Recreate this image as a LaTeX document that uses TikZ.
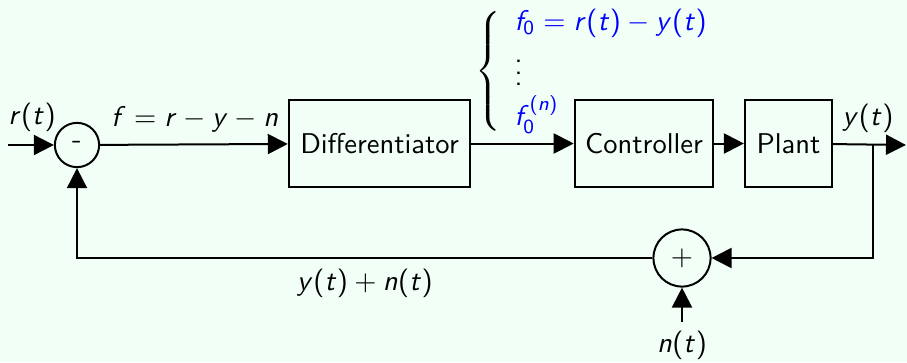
\documentclass[tikz,border=0pt]{standalone}
\usetikzlibrary{arrows.meta}
\DeclareSymbolFont{sfitletters}{OT1}{cmss}{m}{sl}
\DeclareSymbolFont{sfupright}{OT1}{cmss}{m}{n}
\DeclareMathSymbol{f}{\mathalpha}{sfitletters}{`f}
\DeclareMathSymbol{r}{\mathalpha}{sfitletters}{`r}
\DeclareMathSymbol{t}{\mathalpha}{sfitletters}{`t}
\DeclareMathSymbol{y}{\mathalpha}{sfitletters}{`y}
\DeclareMathSymbol{n}{\mathalpha}{sfitletters}{`n}
\DeclareMathSymbol{0}{\mathalpha}{sfupright}{`0}
\DeclareMathSymbol{(}{\mathopen}{sfupright}{`(}
\DeclareMathSymbol{)}{\mathclose}{sfupright}{`)}
\definecolor{bgmint}{RGB}{242,255,246}
\begin{document}
\begin{tikzpicture}[x=0.35pt,y=-0.35pt,
  line width=0.7pt,
  every node/.append style={font=\sffamily},
  blockbox/.style={draw,minimum width=#1,minimum height=30.5pt,inner sep=0pt},
  sumnode/.style={draw,circle,inner sep=0pt,minimum size=#1},
  arr/.style={-{Triangle[length=7pt,width=7pt]}},
  lbl/.style={inner sep=0pt}]
\fill[bgmint] (0,0) rectangle (907,362);
\useasboundingbox (0,0) rectangle (907,362);
% nodes
\node[sumnode=15.5pt] (s1) at (77,145) {-};
\node[blockbox=63.5pt] (diff) at (379.5,143.5) {Differentiator};
\node[blockbox=48.5pt] (ctrl) at (644,143.5) {Controller};
\node[blockbox=30.5pt] (plant) at (788.5,143.5) {Plant};
\node[sumnode=20pt] (s2) at (682,258) {$+$};
\coordinate (in) at (8,145);
\coordinate (out) at (906,145);
\coordinate (br) at (873,145);
\coordinate (brd) at (873,258);
\coordinate (fbl) at (77,258);
\coordinate (nin) at (682,322);
% labels
\node[lbl] (lr) at (32,117) {$r(t)$};
\node[lbl] (lf) at (195,119) {$f=r-y-n$};
\node[lbl] (ly) at (868,118) {$y(t)$};
\node[lbl] (lyn) at (365,283) {$y(t)+n(t)$};
\node[lbl] (ln) at (682,345) {$n(t)$};
\node[lbl,anchor=west] (eqs) at (474,71) {$\left\{\begin{array}{l}
  \color{blue} f_0=r(t)-y(t)\\[1pt]
  \vdots\\
  \color{blue} f_0^{(n)}
\end{array}\right.$};
% connectors
\draw[arr] (in) -- (s1);
\draw[arr] (s1) -- (diff);
\draw[arr] (diff) -- (ctrl);
\draw[arr] (ctrl) -- (plant);
\draw[arr] (plant) -- (out);
\draw[arr] (br) -- (brd) -- (s2);
\draw[arr] (s2) -- (fbl) -- (s1);
\draw[arr] (nin) -- (s2);
\end{tikzpicture}
\end{document}
